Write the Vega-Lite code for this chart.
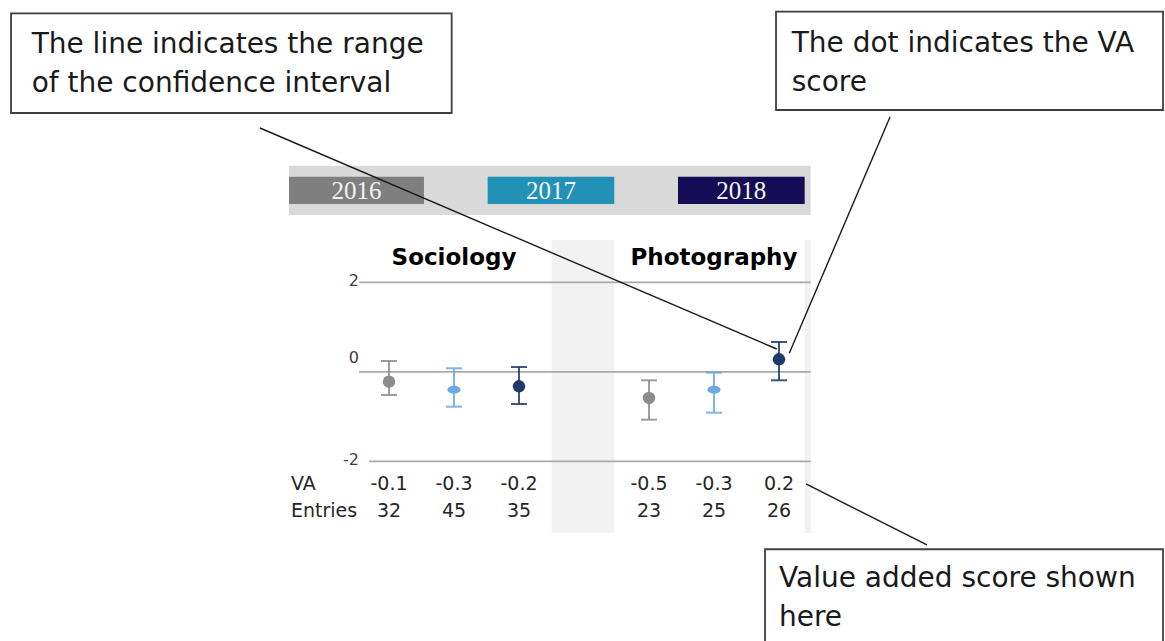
{
  "$schema": "https://vega.github.io/schema/vega-lite/v6.json",
  "width": 1165,
  "height": 641,
  "autosize": {"type": "none"},
  "padding": 0,
  "background": "white",
  "config": {"view": {"stroke": null}, "text": {"font": "DejaVu Sans"}},
  "datasets": {
    "cols": [
      {"subject": "Sociology", "year": "2016", "pos": 1, "est": -0.221, "lo": -0.518, "hi": 0.241, "va": -0.1, "entries": 32},
      {"subject": "Sociology", "year": "2017", "pos": 2, "est": -0.4, "lo": -0.78, "hi": 0.078, "va": -0.3, "entries": 45},
      {"subject": "Sociology", "year": "2018", "pos": 3, "est": -0.324, "lo": -0.72, "hi": 0.107, "va": -0.2, "entries": 35},
      {"subject": "Photography", "year": "2016", "pos": 5, "est": -0.585, "lo": -1.07, "hi": -0.19, "va": -0.5, "entries": 23},
      {"subject": "Photography", "year": "2017", "pos": 6, "est": -0.4, "lo": -0.914, "hi": -0.02, "va": -0.3, "entries": 25},
      {"subject": "Photography", "year": "2018", "pos": 7, "est": 0.279, "lo": -0.19, "hi": 0.666, "va": 0.2, "entries": 26}
    ],
    "legend": [
      {"year": "2016", "x1": -0.538, "x2": 1.538, "xc": 0.5},
      {"year": "2017", "x1": 2.518, "x2": 4.466, "xc": 3.492},
      {"year": "2018", "x1": 5.446, "x2": 7.395, "xc": 6.42}
    ],
    "bands": [
      {"x1": 3.503, "x2": 4.462},
      {"x1": 7.4, "x2": 7.49}
    ],
    "grid": [
      {"v": 2, "x1": 0.538, "x2": 7.488},
      {"v": 0, "x1": 0.538, "x2": 7.488},
      {"v": -2, "x1": 0.692, "x2": 7.488}
    ],
    "callouts": [
      {"x1": -0.985, "y1": 5.448, "x2": 6.965, "y2": 0.509},
      {"x1": 8.708, "y1": 5.694, "x2": 7.158, "y2": 0.413},
      {"x1": 7.415, "y1": -2.507, "x2": 9.277, "y2": -3.87}
    ],
    "boxes": [
      {"x1": -4.815, "x2": 1.964, "y1": 8.011, "y2": 5.783, "tx": -4.498, "ty": 7.124, "lines": ["The line indicates the range", "of the confidence interval"]},
      {"x1": 6.954, "x2": 12.908, "y1": 8.047, "y2": 5.85, "tx": 7.195, "ty": 7.135, "lines": ["The dot indicates the VA", "score"]},
      {"x1": 6.785, "x2": 12.908, "y1": -3.966, "y2": -6.3, "tx": 7.0, "ty": -4.809, "lines": ["Value added score shown", "here"]}
    ]
  },
  "layer": [
    {
      "data": {"values": [{"x1": -0.538, "x2": 7.488, "y1": 4.606, "y2": 3.504}]},
      "mark": {"type": "rect", "fill": "#d9d9d9"},
      "encoding": {
        "x": {"field": "x1", "type": "quantitative", "scale": {"domain": [-4.9846, 12.9385], "nice": false, "zero": false}, "axis": null},
        "x2": {"field": "x2"},
        "y": {"field": "y1", "type": "quantitative", "scale": {"domain": [-6.016, 8.308], "nice": false, "zero": false}, "axis": null},
        "y2": {"field": "y2"}
      }
    },
    {
      "data": {"name": "legend"},
      "mark": {"type": "rect"},
      "encoding": {
        "x": {"field": "x1", "type": "quantitative", "scale": {"domain": [-4.9846, 12.9385], "nice": false, "zero": false}, "axis": null},
        "x2": {"field": "x2"},
        "y": {"datum": 4.36, "type": "quantitative", "scale": {"domain": [-6.016, 8.308], "nice": false, "zero": false}, "axis": null},
        "y2": {"datum": 3.75},
        "fill": {"field": "year", "type": "nominal", "scale": {"domain": ["2016", "2017", "2018"], "range": ["#7f7f7f", "#2192b6", "#160b55"]}, "legend": null}
      }
    },
    {
      "data": {"name": "legend"},
      "mark": {"type": "text", "font": "Liberation Serif", "fontSize": 25, "fill": "#f2f2f2", "baseline": "middle", "align": "center", "dy": 1},
      "encoding": {
        "x": {"field": "xc", "type": "quantitative", "scale": {"domain": [-4.9846, 12.9385], "nice": false, "zero": false}, "axis": null},
        "y": {"datum": 4.054, "type": "quantitative", "scale": {"domain": [-6.016, 8.308], "nice": false, "zero": false}, "axis": null},
        "text": {"field": "year", "type": "nominal"}
      }
    },
    {
      "data": {"name": "bands"},
      "mark": {"type": "rect", "fill": "#f2f2f2"},
      "encoding": {
        "x": {"field": "x1", "type": "quantitative", "scale": {"domain": [-4.9846, 12.9385], "nice": false, "zero": false}, "axis": null},
        "x2": {"field": "x2"},
        "y": {"datum": 2.945, "type": "quantitative", "scale": {"domain": [-6.016, 8.308], "nice": false, "zero": false}, "axis": null},
        "y2": {"datum": -3.602}
      }
    },
    {
      "data": {"name": "grid"},
      "mark": {"type": "rule", "stroke": "#a9a9a9", "strokeWidth": 1.8},
      "encoding": {
        "x": {"field": "x1", "type": "quantitative", "scale": {"domain": [-4.9846, 12.9385], "nice": false, "zero": false}, "axis": null},
        "x2": {"field": "x2"},
        "y": {"field": "v", "type": "quantitative", "scale": {"domain": [-6.016, 8.308], "nice": false, "zero": false}, "axis": null},
        "strokeWidth": {"condition": {"test": "datum.v == 0", "value": 2.4}, "value": 1.8}
      }
    },
    {
      "data": {"name": "grid"},
      "transform": [{"filter": "datum.v != 0"}],
      "mark": {"type": "text", "fontSize": 16, "fill": "#404040", "align": "right", "baseline": "middle", "dy": -1},
      "encoding": {
        "x": {"datum": 0.538, "type": "quantitative", "scale": {"domain": [-4.9846, 12.9385], "nice": false, "zero": false}, "axis": null},
        "y": {"field": "v", "type": "quantitative", "scale": {"domain": [-6.016, 8.308], "nice": false, "zero": false}, "axis": null},
        "text": {"field": "v", "type": "nominal"}
      }
    },
    {
      "data": {"name": "grid"},
      "transform": [{"filter": "datum.v == 0"}],
      "mark": {"type": "text", "fontSize": 16, "fill": "#404040", "align": "right", "baseline": "middle", "dy": -14},
      "encoding": {
        "x": {"datum": 0.538, "type": "quantitative", "scale": {"domain": [-4.9846, 12.9385], "nice": false, "zero": false}, "axis": null},
        "y": {"field": "v", "type": "quantitative", "scale": {"domain": [-6.016, 8.308], "nice": false, "zero": false}, "axis": null},
        "text": {"field": "v", "type": "nominal"}
      }
    },
    {
      "data": {"name": "cols"},
      "mark": {"type": "text", "fontSize": 23, "fontWeight": "bold", "fill": "#000000", "align": "center", "baseline": "alphabetic"},
      "encoding": {
        "x": {"aggregate": "mean", "field": "pos", "type": "quantitative", "scale": {"domain": [-4.9846, 12.9385], "nice": false, "zero": false}, "axis": null},
        "y": {"datum": 2.387, "type": "quantitative", "scale": {"domain": [-6.016, 8.308], "nice": false, "zero": false}, "axis": null},
        "text": {"field": "subject", "type": "nominal"}
      }
    },
    {
      "data": {"name": "cols"},
      "mark": {"type": "rule", "strokeWidth": 2, "opacity": 0.85},
      "encoding": {
        "x": {"field": "pos", "type": "quantitative", "scale": {"domain": [-4.9846, 12.9385], "nice": false, "zero": false}, "axis": null},
        "y": {"field": "lo", "type": "quantitative", "scale": {"domain": [-6.016, 8.308], "nice": false, "zero": false}, "axis": null},
        "y2": {"field": "hi"},
        "color": {"field": "year", "type": "nominal", "scale": {"domain": ["2016", "2017", "2018"], "range": ["#8c8c8c", "#6aaae3", "#1f3a6a"]}, "legend": null}
      }
    },
    {
      "data": {"name": "cols"},
      "mark": {"type": "tick", "orient": "horizontal", "size": 16, "thickness": 2, "opacity": 0.85},
      "encoding": {
        "x": {"field": "pos", "type": "quantitative", "scale": {"domain": [-4.9846, 12.9385], "nice": false, "zero": false}, "axis": null},
        "y": {"field": "lo", "type": "quantitative", "scale": {"domain": [-6.016, 8.308], "nice": false, "zero": false}, "axis": null},
        "color": {"field": "year", "type": "nominal", "scale": {"domain": ["2016", "2017", "2018"], "range": ["#8c8c8c", "#6aaae3", "#1f3a6a"]}, "legend": null}
      }
    },
    {
      "data": {"name": "cols"},
      "mark": {"type": "tick", "orient": "horizontal", "size": 16, "thickness": 2, "opacity": 0.85},
      "encoding": {
        "x": {"field": "pos", "type": "quantitative", "scale": {"domain": [-4.9846, 12.9385], "nice": false, "zero": false}, "axis": null},
        "y": {"field": "hi", "type": "quantitative", "scale": {"domain": [-6.016, 8.308], "nice": false, "zero": false}, "axis": null},
        "color": {"field": "year", "type": "nominal", "scale": {"domain": ["2016", "2017", "2018"], "range": ["#8c8c8c", "#6aaae3", "#1f3a6a"]}, "legend": null}
      }
    },
    {
      "data": {"name": "cols"},
      "mark": {"type": "point", "filled": true, "opacity": 1, "size": 155},
      "encoding": {
        "x": {"field": "pos", "type": "quantitative", "scale": {"domain": [-4.9846, 12.9385], "nice": false, "zero": false}, "axis": null},
        "y": {"field": "est", "type": "quantitative", "scale": {"domain": [-6.016, 8.308], "nice": false, "zero": false}, "axis": null},
        "color": {"field": "year", "type": "nominal", "scale": {"domain": ["2016", "2017", "2018"], "range": ["#8c8c8c", "#5ea4e2", "#1f3a6a"]}, "legend": null},
        "shape": {"field": "year", "type": "nominal", "scale": {"domain": ["2016", "2017", "2018"], "range": ["circle", "M-1.05,0A1.05,0.62 0 1,0 1.05,0A1.05,0.62 0 1,0 -1.05,0Z", "circle"]}, "legend": null}
      }
    },
    {
      "data": {"name": "cols"},
      "mark": {"type": "text", "fontSize": 19, "fill": "#262626", "align": "center", "baseline": "middle"},
      "encoding": {
        "x": {"field": "pos", "type": "quantitative", "scale": {"domain": [-4.9846, 12.9385], "nice": false, "zero": false}, "axis": null},
        "y": {"datum": -2.507, "type": "quantitative", "scale": {"domain": [-6.016, 8.308], "nice": false, "zero": false}, "axis": null},
        "text": {"field": "va", "type": "nominal"}
      }
    },
    {
      "data": {"name": "cols"},
      "mark": {"type": "text", "fontSize": 19, "fill": "#262626", "align": "center", "baseline": "middle"},
      "encoding": {
        "x": {"field": "pos", "type": "quantitative", "scale": {"domain": [-4.9846, 12.9385], "nice": false, "zero": false}, "axis": null},
        "y": {"datum": -3.104, "type": "quantitative", "scale": {"domain": [-6.016, 8.308], "nice": false, "zero": false}, "axis": null},
        "text": {"field": "entries", "type": "nominal"}
      }
    },
    {
      "data": {"values": [{"label": "VA", "v": -2.507}, {"label": "Entries", "v": -3.104}]},
      "mark": {"type": "text", "fontSize": 19, "fill": "#262626", "align": "left", "baseline": "middle"},
      "encoding": {
        "x": {"datum": -0.508, "type": "quantitative", "scale": {"domain": [-4.9846, 12.9385], "nice": false, "zero": false}, "axis": null},
        "y": {"field": "v", "type": "quantitative", "scale": {"domain": [-6.016, 8.308], "nice": false, "zero": false}, "axis": null},
        "text": {"field": "label", "type": "nominal"}
      }
    },
    {
      "data": {"name": "callouts"},
      "mark": {"type": "rule", "stroke": "#1a1a1a", "strokeWidth": 1.4},
      "encoding": {
        "x": {"field": "x1", "type": "quantitative", "scale": {"domain": [-4.9846, 12.9385], "nice": false, "zero": false}, "axis": null},
        "x2": {"field": "x2"},
        "y": {"field": "y1", "type": "quantitative", "scale": {"domain": [-6.016, 8.308], "nice": false, "zero": false}, "axis": null},
        "y2": {"field": "y2"}
      }
    },
    {
      "data": {"name": "boxes"},
      "mark": {"type": "rect", "fill": "white", "stroke": "#3f3f3f", "strokeWidth": 1.8},
      "encoding": {
        "x": {"field": "x1", "type": "quantitative", "scale": {"domain": [-4.9846, 12.9385], "nice": false, "zero": false}, "axis": null},
        "x2": {"field": "x2"},
        "y": {"field": "y1", "type": "quantitative", "scale": {"domain": [-6.016, 8.308], "nice": false, "zero": false}, "axis": null},
        "y2": {"field": "y2"}
      }
    },
    {
      "data": {"name": "boxes"},
      "mark": {"type": "text", "fontSize": 28, "fill": "#1a1a1a", "align": "left", "baseline": "alphabetic", "lineHeight": 39},
      "encoding": {
        "x": {"field": "tx", "type": "quantitative", "scale": {"domain": [-4.9846, 12.9385], "nice": false, "zero": false}, "axis": null},
        "y": {"field": "ty", "type": "quantitative", "scale": {"domain": [-6.016, 8.308], "nice": false, "zero": false}, "axis": null},
        "text": {"field": "lines", "type": "nominal"}
      }
    }
  ]
}
